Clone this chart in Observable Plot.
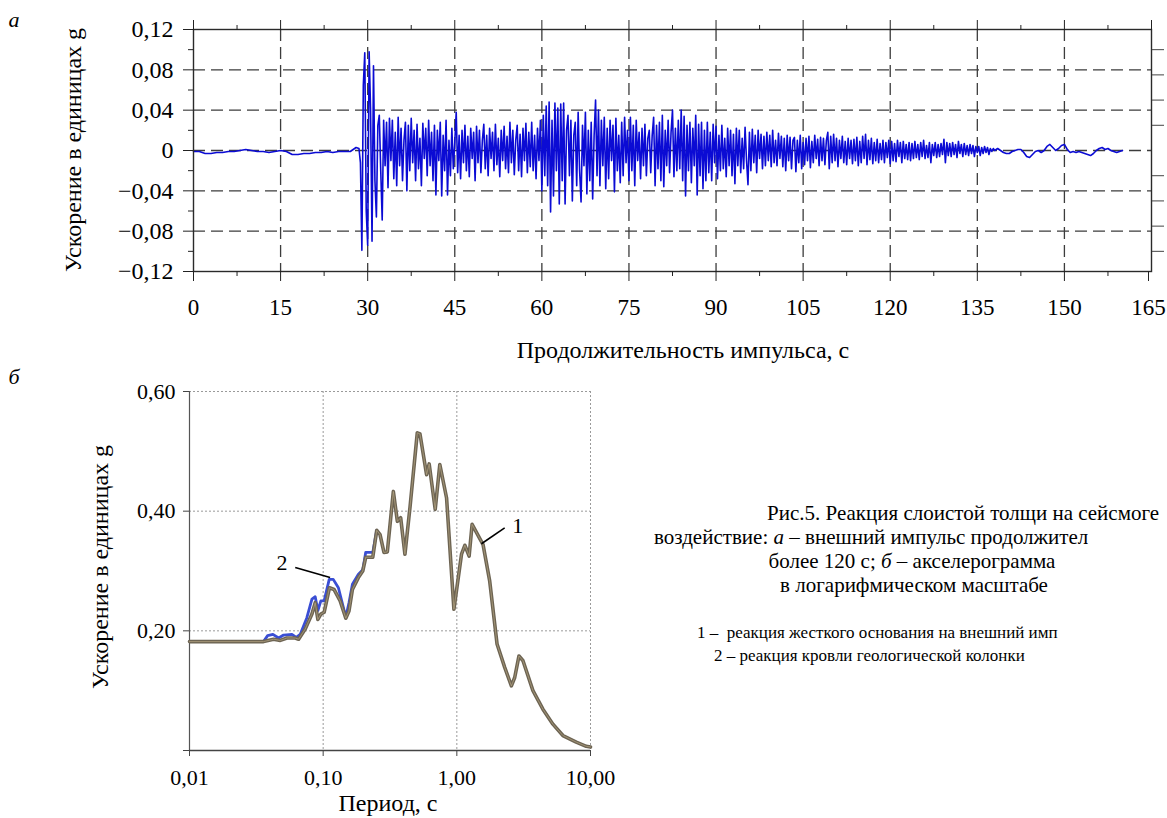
<!DOCTYPE html>
<html><head><meta charset="utf-8">
<script src="https://cdn.jsdelivr.net/npm/d3@7"></script>
<script src="https://cdn.jsdelivr.net/npm/@observablehq/plot@0.6"></script>
<style>
html,body{margin:0;padding:0;background:#fff;}
#page{position:relative;width:1167px;height:818px;overflow:hidden;background:#fff;font-family:"Liberation Serif","Times New Roman",serif;color:#000;}
.abs{position:absolute;white-space:nowrap;line-height:1;font-family:"Liberation Serif","Times New Roman",serif;}
#page svg text{font-family:"Liberation Serif","Times New Roman",serif !important;}
#chartA,#chartB{position:absolute;left:0;}
#chartA{top:0;} #chartB{top:370px;}
</style></head><body><div id="page"><div id="chartA"></div><div id="chartB"></div></div>
<script>
// ---------- (а) external impulse, acceleration in 0.001 g ----------
const quietStartT0 = 0, quietStartDt = 1;
const quietStart = [-1,-1,-3,-3,-2,-2,-1,-1,0,1,0,-1,-1,-2,-1,0,-1,-4,-4,-3,-3,-2,-2,-1,-2,-1,-1,-1,3];
const activeT0 = 28.5, activeDt = 0.25;
const active = [
 2,-12,-99,65,97,-60,-94,98,40,-90,84,-30,-66,25,35,-20,-69,30,-15,28,
 -37,32,-10,30,-28,18,-35,33,-15,22,-30,10,28,-40,25,-20,32,-12,20,-30,
 26,-18,12,-35,27,-8,22,-25,30,-15,18,-30,25,-44,20,-10,28,-45,15,-20,
 30,-44,10,-25,22,-18,8,38,-22,15,-28,20,-12,25,-20,14,-26,22,-8,18,
 -30,24,-12,20,-22,10,26,-18,15,-25,22,-8,18,-20,26,-14,12,-26,20,-10,
 24,-18,14,-22,28,-12,20,-24,10,25,-20,16,-26,22,-10,27,-22,18,-16,28,
 -20,15,-28,22,-10,30,-40,35,-25,44,-35,48,-61,30,-45,47,-20,42,-53,46,
 -30,47,-53,20,35,-25,30,-50,15,28,-35,38,-20,-51,25,-15,38,-43,20,-30,
 28,-48,15,50,-25,40,-35,30,-15,33,-38,22,-28,30,-10,25,-41,32,-20,15,
 -32,28,-25,33,-12,20,-30,33,-20,25,-35,30,-10,18,-28,22,-15,26,-25,12,
 20,-22,15,33,-35,25,-18,28,-30,35,-36,20,-15,30,-22,18,40,-26,22,-20,
 30,-18,40,-30,34,-45,25,-20,28,-32,22,-15,35,-44,26,-25,28,-38,20,-30,
 28,-22,18,-30,26,-12,24,-28,15,-20,25,-18,12,-26,22,-15,20,-25,16,-33,
 22,-15,20,-22,12,-18,23,-10,-34,18,-20,21,-12,15,-22,20,-8,16,-18,14,
 -15,18,-10,15,-16,20,-12,10,-15,17,-8,14,-16,12,-20,15,-10,13,-18,10,
 13,-21,10,-12,15,-18,8,-14,12,-10,14,-17,9,-12,15,-8,11,-15,13,-10,
 12,-14,10,18,-18,14,-12,16,-10,12,-16,10,-8,14,-12,9,-14,12,-8,10,
 -13,11,-10,13,-15,9,-12,14,-8,16,-14,10,-9,12,-13,8,-10,11,-12,7,
 -9,10,-12,8,-7,10,-13,9,-10,7,-11,10,-6,8,-12,9,-8,6,-9,8,
 -10,7,-8,9,-7,6,-9,8,-6,10,-8,5,-7,8,-12,6,-5,8,-7,6,
 -6,7,-4,11,-12,8,-5,7,-6,8,-4,6,-7,9,-3,6,-6,7,-4,5,
 -5,6,-3,5,-6,4,-2,4,-5,3,-3,4,-2,3,-4,2,-1,2,0,1
];
const quietEndT0 = 138.5, quietEndDt = 0.5;
const quietEnd = [2,0,-2,-3,-3,-1,0,1,1,-2,-6,-7,-4,-1,0,-2,0,4,6,3,0,2,5,6,1,-2,-1,-2,-1,-2,-3,-4,-5,-3,0,2,3,1,2,0,-1,-2,-1,0];

const xTicksTop = [0,15,30,45,60,75,90,105,120,135,150,165];
const xMinorTop = [7.5,22.5,37.5,52.5,67.5,82.5,97.5,112.5,127.5,142.5,157.5];
const yTicksTop = [-0.12,-0.08,-0.04,0,0.04,0.08,0.12];
const yMinorTop = [-0.1,-0.06,-0.02,0.02,0.06,0.1];
const xGridTop = [15,30,45,60,75,90,105,120,135,150];
const yGridTop = [-0.08,-0.04,0,0.04,0.08];
const yRightTicks = [-0.1,-0.075,-0.05,-0.025,0.025,0.05,0.075,0.1];

// ---------- (б) response spectra ----------
const periods1 = [0.01,0.0358,0.0426,0.0478,0.0536,0.0618,0.0655,0.0734,0.0824,0.0872,0.0913,0.0961,0.1017,0.1114,0.1208,0.134,0.1477,0.156,0.1655,0.1834,0.1978,0.2083,0.235,0.2517,0.2662,0.285,0.302,0.335,0.359,0.380,0.409,0.446,0.506,0.530,0.594,0.621,0.689,0.746,0.838,0.951,1.084,1.148,1.236,1.301,1.571,1.762,1.999,2.281,2.559,2.710,2.917,3.126,3.710,4.404,5.233,6.215,7.82,9.29,10];
const accel1 = [0.182,0.182,0.186,0.184,0.188,0.188,0.186,0.203,0.228,0.247,0.219,0.228,0.231,0.272,0.269,0.25,0.221,0.233,0.269,0.289,0.3,0.323,0.323,0.368,0.361,0.331,0.332,0.433,0.383,0.389,0.328,0.406,0.531,0.529,0.461,0.479,0.403,0.478,0.422,0.236,0.328,0.343,0.325,0.378,0.344,0.283,0.178,0.139,0.108,0.122,0.158,0.150,0.100,0.069,0.044,0.025,0.014,0.007,0.006];
const periods2 = [0.0358,0.0384,0.0421,0.0464,0.0506,0.0584,0.0629,0.0673,0.0755,0.0824,0.0872,0.0913,0.0961,0.1017,0.111,0.119,0.130,0.1477,0.156,0.1655,0.183,0.198,0.208,0.235,0.2517];
const accel2 = [0.182,0.192,0.194,0.188,0.193,0.194,0.189,0.194,0.222,0.253,0.257,0.234,0.25,0.25,0.286,0.286,0.272,0.223,0.247,0.278,0.294,0.302,0.331,0.331,0.368];
const xTicksBottom = [0.01,0.1,1,10];
const xTickLabelsBottom = ["0,01","0,10","1,00","10,00"];
const yTicksBottom = [0,0.2,0.4,0.6];
const yTickLabelsBottom = ["","0,20","0,40","0,60"];
const callouts = [
  {label:"2", T:0.0492, a:0.314, T1:0.0618, a1:0.306, T2:0.1127, a2:0.289},
  {label:"1", T:2.85, a:0.375, T1:2.28, a1:0.372, T2:1.528, a2:0.3455}
];

// ---------- build ----------
const accelSeries = [
  ...quietStart.map((v,i)=>({t: quietStartT0 + i*quietStartDt, a: v/1000})),
  ...active.map((v,i)=>({t: activeT0 + i*activeDt, a: v/1000})),
  ...quietEnd.map((v,i)=>({t: quietEndT0 + i*quietEndDt, a: v/1000}))
];
const fmtY = d => Math.abs(d) < 1e-9 ? "0" : (d < 0 ? "\u2212" : "") + Math.abs(d).toFixed(2).replace(".", ",");
const dash = {stroke:"#3c3c3c", strokeOpacity:1, strokeDasharray:"12,6", strokeWidth:1.3};
const serif = '"Liberation Serif","Times New Roman",serif';
const lookup = (keys, labels) => d => { const i = keys.findIndex(k => Math.abs(k - d) < 1e-9); return i < 0 ? "" : labels[i]; };
const xLabelsInner = xTicksTop.slice(0, -1);
const xLabelsLast = xTicksTop.slice(-1);

const plotA = Plot.plot({
  width:1167, height:360, marginLeft:193, marginRight:16, marginTop:29, marginBottom:89,
  x:{domain:[0,165]}, y:{domain:[-0.12,0.12]},
  style:{fontFamily:serif, fontSize:"24px", color:"#000", background:"transparent", overflow:"visible"},
  marks:[
    Plot.gridX(xGridTop, dash),
    Plot.gridY(yGridTop, dash),
    Plot.line(accelSeries, {x:"t", y:"a", stroke:"#0b0bd4", strokeWidth:1.6}),
    Plot.frame({stroke:"#2a2a2a", strokeWidth:1.4}),
    Plot.axisX(xLabelsInner, {anchor:"bottom", tickSize:10, tickPadding:17, tickFormat:d=>String(d), label:null, stroke:"#222", fontSize:23}),
    Plot.axisX(xLabelsLast, {anchor:"bottom", tickSize:10, tickPadding:17, tickFormat:d=>String(d), label:null, stroke:"#222", fontSize:23, dx:-3}),
    Plot.axisX(xMinorTop, {anchor:"bottom", tickSize:5, tickFormat:()=>"", label:null, stroke:"#222"}),
    Plot.axisX(xTicksTop, {anchor:"top", tickSize:10, tickFormat:()=>"", label:null, stroke:"#222"}),
    Plot.axisX(xMinorTop, {anchor:"top", tickSize:5, tickFormat:()=>"", label:null, stroke:"#222"}),
    Plot.axisY(yTicksTop, {anchor:"left", tickSize:10, tickPadding:10, tickFormat:fmtY, label:null, stroke:"#222", fontSize:24}),
    Plot.axisY(yMinorTop, {anchor:"left", tickSize:5, tickFormat:()=>"", label:null, stroke:"#222"}),
    Plot.axisY(yRightTicks, {anchor:"right", tickSize:12, tickFormat:()=>"", label:null, stroke:"#444"})
  ]
});
document.getElementById("chartA").appendChild(plotA);

const resp1 = periods1.map((T,i)=>({T, a:accel1[i]}));
const resp2 = periods2.map((T,i)=>({T, a:accel2[i]}));
const dot = {stroke:"#9a9a9a", strokeOpacity:1, strokeDasharray:"2,2", strokeWidth:1};
const plotB = Plot.plot({
  width:640, height:448, marginLeft:189, marginRight:50, marginTop:21, marginBottom:68,
  x:{type:"log", domain:[0.01,10]}, y:{domain:[0,0.6]},
  style:{fontFamily:serif, fontSize:"22px", color:"#000", background:"transparent", overflow:"visible"},
  marks:[
    Plot.gridX([0.1,1,10], dot),
    Plot.gridY([0.2,0.4,0.6], dot),
    Plot.ruleX([0.01], {y1:0, y2:0.6, stroke:"#555", strokeWidth:1.2}),
    Plot.ruleY([0], {stroke:"#444", strokeWidth:1.4}),
    Plot.line(resp2, {x:"T", y:"a", stroke:"#3a4ed4", strokeWidth:2.8}),
    Plot.line(resp1, {x:"T", y:"a", stroke:"#6d6453", strokeWidth:3.6}),
    Plot.line(resp1, {x:"T", y:"a", stroke:"#b6a683", strokeWidth:1, strokeOpacity:0.7}),
    Plot.link(callouts, {x1:"T1", y1:"a1", x2:"T2", y2:"a2", stroke:"#000", strokeWidth:1.6}),
    Plot.text(callouts, {x:"T", y:"a", text:"label", fontSize:22, fill:"#000"}),
    Plot.axisX(xTicksBottom, {anchor:"bottom", tickSize:6, tickPadding:13, tickFormat:lookup(xTicksBottom, xTickLabelsBottom), label:null, stroke:"#444", fontSize:22}),
    Plot.axisY(yTicksBottom, {anchor:"left", tickSize:6, tickPadding:8, tickFormat:lookup(yTicksBottom, yTickLabelsBottom), label:null, stroke:"#444", fontSize:22})
  ]
});
document.getElementById("chartB").appendChild(plotB);

// ---------- text ----------
const page = document.getElementById("page");
function put(text, x, y, opt={}) {
  const d = document.createElement("div");
  d.className = "abs";
  d.innerHTML = text;
  d.style.fontSize = (opt.size || 24) + "px";
  if (opt.italic) d.style.fontStyle = "italic";
  const tx = (opt.anchor === "start") ? "0" : "-50%";
  d.style.left = x + "px"; d.style.top = y + "px";
  d.style.transform = `translate(${tx},-50%)` + (opt.rotate ? " rotate(-90deg)" : "");
  page.appendChild(d);
}
put("а", 14, 20, {italic:true, size:22});
put("б", 14, 377, {italic:true, size:22});
put("Ускорение в единицах g", 73, 150, {rotate:true, size:24});
put("Продолжительность импульса, с", 683, 350, {size:24});
put("Ускорение в единицах g", 100, 567, {rotate:true, size:24});
put("Период, с", 388, 803, {size:24});
put("Рис.5. Реакция слоистой толщи на сейсмоге", 767, 513, {anchor:"start", size:21});
put("воздействие: <i>а</i> – внешний импульс продолжител", 654, 537, {anchor:"start", size:21});
put("более 120 с; <i>б</i> – акселерограмма", 912, 561, {size:21});
put("в логарифмическом масштабе", 914, 585, {size:21});
put("1 –&nbsp; реакция жесткого основания на внешний имп", 697, 632, {anchor:"start", size:17});
put("2 – реакция кровли геологической колонки", 714, 655, {anchor:"start", size:17});
</script>
</body></html>
